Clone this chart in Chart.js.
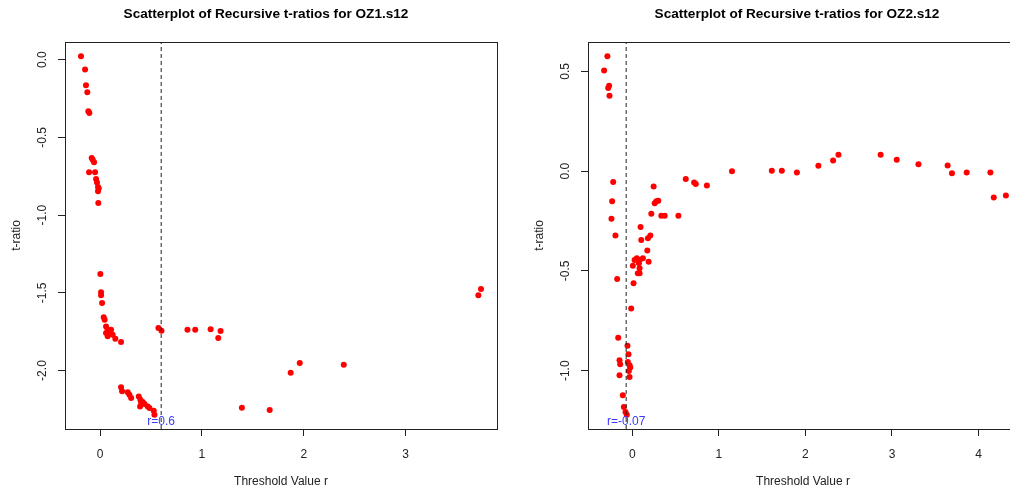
<!DOCTYPE html>
<html>
<head>
<meta charset="utf-8">
<script src="https://cdn.jsdelivr.net/npm/chart.js"></script>
<style>
    body{
        margin: 0;
        background: #fff;
        width: 1010px;
        height: 492px;
        overflow: hidden;
        position: relative;
    }
    .panel{
        position: absolute;
        top: 0;
        height: 492px;
    }
</style>
</head>
<body>
<div class="panel" style="left:0;width:505px;"><canvas id="oz1"></canvas></div>
<div class="panel" style="left:505px;width:521px;"><canvas id="oz2"></canvas></div>
<script>
// OZ1.s12 recursive t-ratios
const oz1X = [-0.187,-0.147,-0.138,-0.125,-0.115,-0.105,-0.082,-0.072,-0.059,-0.108,-0.049,-0.039,-0.03,-0.02,-0.013,-0.02,-0.017,
    0.003,0.01,0.01,0.02,0.036,0.045,0.059,0.075,0.091,0.059,0.075,0.108,0.124,0.15,0.206,0.573,0.603,
    0.206,0.216,0.272,0.288,0.305,0.38,0.396,0.403,0.419,0.393,0.436,0.468,0.485,0.527,0.534,
    0.858,0.934,1.085,1.183,1.16,1.392,1.665,1.871,1.96,2.392,3.713,3.739];
const oz1Y = [0.021,-0.064,-0.165,-0.21,-0.333,-0.343,-0.633,-0.644,-0.661,-0.725,-0.725,-0.768,-0.79,-0.82,-0.828,-0.847,-0.922,
    -1.379,-1.497,-1.516,-1.566,-1.658,-1.673,-1.716,-1.737,-1.748,-1.759,-1.78,-1.737,-1.77,-1.795,-1.817,-1.727,-1.744,
    -2.108,-2.134,-2.139,-2.156,-2.177,-2.167,-2.188,-2.209,-2.203,-2.231,-2.216,-2.231,-2.241,-2.259,-2.284,
    -1.737,-1.737,-1.735,-1.746,-1.791,-2.239,-2.254,-2.014,-1.952,-1.963,-1.516,-1.476];

// OZ2.s12 recursive t-ratios
const oz2X = [-0.287,-0.325,-0.267,-0.278,-0.263,-0.22,-0.232,-0.24,-0.194,
    0.247,0.618,0.715,0.734,0.862,0.278,0.259,0.301,0.22,0.336,0.375,0.533,0.096,0.209,0.181,0.104,
    0.174,0.053,0.027,0.085,0.123,0.189,0.007,0.077,0.085,0.085,0.065,-0.174,0.015,-0.012,
    -0.162,-0.055,-0.043,-0.147,-0.139,-0.051,-0.031,-0.023,-0.039,-0.147,-0.031,-0.109,-0.097,-0.078,-0.063,
    1.152,1.612,1.728,1.902,2.15,2.32,2.382,2.869,3.055,3.306,3.643,3.693,3.863,4.137,4.176,4.316];
const oz2Y = [0.575,0.504,0.428,0.417,0.378,-0.055,-0.151,-0.239,-0.323,
    -0.077,-0.04,-0.057,-0.064,-0.072,-0.151,-0.161,-0.149,-0.213,-0.224,-0.224,-0.224,-0.28,-0.323,-0.336,-0.345,
    -0.398,-0.437,-0.445,-0.445,-0.437,-0.454,-0.474,-0.462,-0.487,-0.512,-0.512,-0.541,-0.562,-0.688,
    -0.835,-0.875,-0.917,-0.947,-0.967,-0.956,-0.972,-0.984,-1.001,-1.023,-1.031,-1.123,-1.182,-1.207,-1.22,
    0.0,0.002,0.002,-0.007,0.027,0.053,0.082,0.082,0.057,0.035,0.028,-0.01,-0.007,-0.007,-0.132,-0.122];

const oz1XTicks = [0, 1, 2, 3];
const oz1YTicks = [-2.0, -1.5, -1.0, -0.5, 0.0];
const oz2XTicks = [0, 1, 2, 3, 4];
const oz2YTicks = [-1.0, -0.5, 0.0, 0.5];

const FONT = '"Liberation Sans", Arial, sans-serif';

// R-style frame: box, rotated y labels, titles, threshold label
const rFrame = {
    id: 'rFrame',
    afterDraw(chart, args, opts) {
        const c = chart.ctx, a = chart.chartArea;
        const ys = chart.scales.y, xs = chart.scales.x;
        c.save();
        c.strokeStyle = '#222';
        c.lineWidth = 1;
        c.strokeRect(Math.round(a.left) + 0.5, Math.round(a.top) + 0.5,
            Math.round(a.right - a.left), Math.round(a.bottom - a.top));

        c.fillStyle = '#222';
        c.font = '12px ' + FONT;
        c.textAlign = 'center';
        c.textBaseline = 'middle';
        opts.yTicks.forEach(v => {
            c.save();
            c.translate(a.left - 22, ys.getPixelForValue(v));
            c.rotate(-Math.PI / 2);
            c.fillText(v.toFixed(1), 0, 0);
            c.restore();
        });
        c.save();
        c.translate(a.left - 48, (a.top + a.bottom) / 2);
        c.rotate(-Math.PI / 2);
        c.fillText('t-ratio', 0, 0);
        c.restore();

        c.fillText('Threshold Value r', opts.xTitleX, 482);

        c.fillStyle = '#000';
        c.font = 'bold 13.6px ' + FONT;
        c.fillText(opts.title, opts.titleX, 14);

        c.fillStyle = '#3a3aff';
        c.font = '12px ' + FONT;
        c.fillText('r=' + opts.r, xs.getPixelForValue(opts.r), a.bottom - 7);
        c.restore();
    }
};

function makeChart(id, xs, ys, r, xr, yr, xTicks, yTicks, leftW, padR, title, titleX, xTitleX) {
    const pts = xs.map((x, i) => ({x: x, y: ys[i]}));
    return new Chart(document.getElementById(id), {
        type: 'scatter',
        data: {
            datasets: [{
                data: [{x: r, y: yr[0]}, {x: r, y: yr[1]}],
                showLine: true,
                borderColor: '#222',
                borderWidth: 1,
                borderDash: [4, 3],
                pointRadius: 0
            }, {
                data: pts,
                pointRadius: 3,
                pointBorderWidth: 0,
                pointBackgroundColor: '#ff0000'
            }]
        },
        options: {
            responsive: false,
            animation: false,
            devicePixelRatio: 1,
            layout: {padding: {top: 42, right: padR, left: 0, bottom: 0}},
            plugins: {
                legend: {display: false},
                tooltip: {enabled: false},
                rFrame: {yTicks: yTicks, r: r, title: title, titleX: titleX, xTitleX: xTitleX}
            },
            scales: {
                x: {
                    type: 'linear',
                    min: xr[0], max: xr[1],
                    afterBuildTicks: s => { s.ticks = xTicks.map(v => ({value: v})); },
                    afterFit: s => { s.height = 63; },
                    ticks: {color: '#222', font: {size: 12, family: FONT}, padding: 11, maxRotation: 0},
                    grid: {drawOnChartArea: false, drawTicks: true, tickLength: 7, color: '#222'},
                    border: {display: false}
                },
                y: {
                    type: 'linear',
                    min: yr[0], max: yr[1],
                    afterBuildTicks: s => { s.ticks = yTicks.map(v => ({value: v})); },
                    afterFit: s => { s.width = leftW; },
                    ticks: {color: 'rgba(0,0,0,0)', font: {size: 12, family: FONT}},
                    grid: {drawOnChartArea: false, drawTicks: true, tickLength: 7, color: '#222'},
                    border: {display: false}
                }
            }
        },
        plugins: [rFrame]
    });
}

const c1 = document.getElementById('oz1');
c1.width = 505; c1.height = 492;
const c2 = document.getElementById('oz2');
c2.width = 521; c2.height = 492;

makeChart('oz1', oz1X, oz1Y, 0.6, [-0.344, 3.896], [-2.376, 0.113], oz1XTicks, oz1YTicks, 65, 8,
    'Scatterplot of Recursive t-ratios for OZ1.s12', 266, 281);
makeChart('oz2', oz2X, oz2Y, -0.07, [-0.511, 4.502], [-1.292, 0.647], oz2XTicks, oz2YTicks, 83, 0,
    'Scatterplot of Recursive t-ratios for OZ2.s12', 292, 298);
</script>
</body>
</html>
